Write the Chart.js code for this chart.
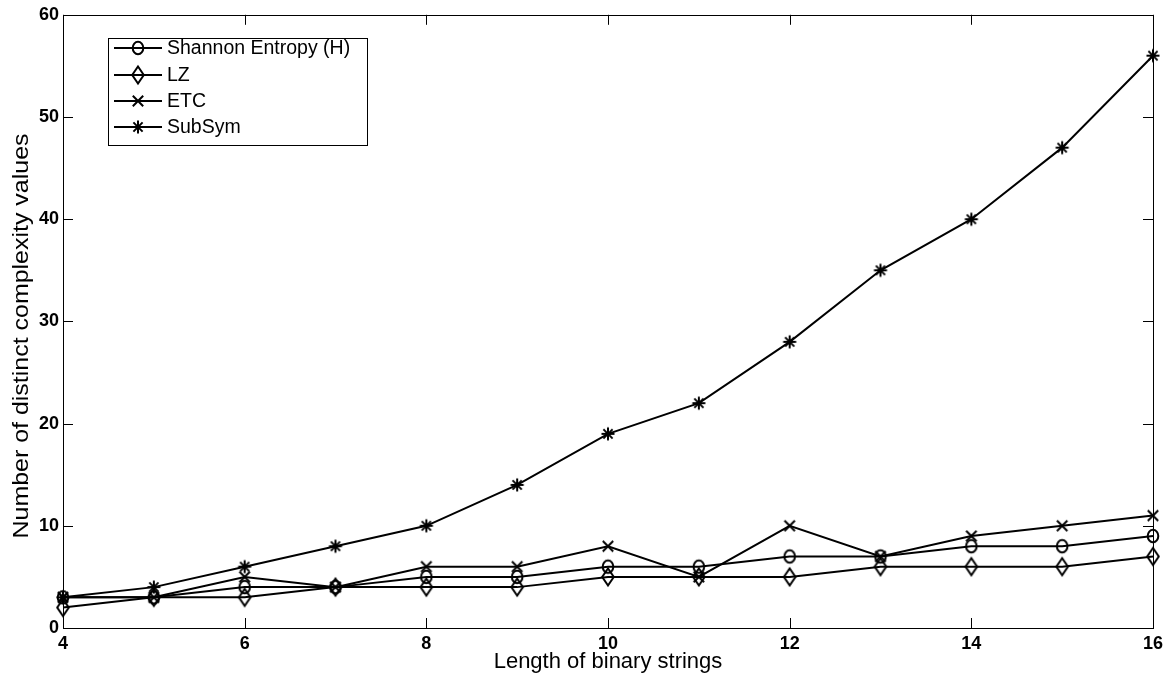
<!DOCTYPE html>
<html><head><meta charset="utf-8">
<script src="https://cdn.jsdelivr.net/npm/chart.js@4"></script>
<style>html,body{margin:0;padding:0;background:#fff}#wrap{width:1175px;height:679px}</style>
</head><body><div id="wrap"><canvas id="c" width="1175" height="679"></canvas></div>
<script>
const lengths = [4,5,6,7,8,9,10,11,12,13,14,15,16];
const shannon = [3,3,4,4,5,5,6,6,7,7,8,8,9];
const lz      = [2,3,3,4,4,4,5,5,5,6,6,6,7];
const etc     = [3,3,5,4,6,6,8,5,10,7,9,10,11];
const subsym  = [3,4,6,8,10,14,19,22,28,35,40,47,56];
const seriesNames = ['Shannon Entropy (H)','LZ','ETC','SubSym'];
const xTicks = [4,6,8,10,12,14,16];
const yTicks = [0,10,20,30,40,50,60];
const xTitle = 'Length of binary strings';
const yTitle = 'Number of distinct complexity values';
const FONT = '"Liberation Sans", Arial, Helvetica, sans-serif';

function marker(kind){
  const w=22,h=24,c=document.createElement('canvas');
  c.width=w;c.height=h;
  const g=c.getContext('2d');g.strokeStyle='#000';g.lineWidth=2;g.lineCap='butt';
  const cx=w/2,cy=h/2;
  g.beginPath();
  if(kind==='circle'){g.ellipse(cx,cy,5.3,6.2,0,0,Math.PI*2);}
  else if(kind==='diamond'){g.moveTo(cx,cy-8.5);g.lineTo(cx+5.8,cy);g.lineTo(cx,cy+8.5);g.lineTo(cx-5.8,cy);g.closePath();}
  else if(kind==='x'){const r=5.2;g.moveTo(cx-r,cy-r);g.lineTo(cx+r,cy+r);g.moveTo(cx+r,cy-r);g.lineTo(cx-r,cy+r);}
  else if(kind==='star'){const r=6.5,d=4.6;g.moveTo(cx,cy-r);g.lineTo(cx,cy+r);g.moveTo(cx-r,cy);g.lineTo(cx+r,cy);
    g.moveTo(cx-d,cy-d);g.lineTo(cx+d,cy+d);g.moveTo(cx+d,cy-d);g.lineTo(cx-d,cy+d);}
  g.stroke();
  return c;
}
const markers=[marker('circle'),marker('diamond'),marker('x'),marker('star')];
const allData = [shannon, lz, etc, subsym];
const datasets = allData.map((d,i)=>({
  label: seriesNames[i],
  data: lengths.map((x,j)=>({x:x,y:d[j]})),
  borderColor:'#000', borderWidth:2,
  pointStyle: markers[i],
  pointRadius: 8,
  tension:0, fill:false, clip:false
}));

const frame = {
  id:'frame',
  afterDraw(chart){
    const ctx = chart.ctx, a = chart.chartArea;
    const xs = chart.scales.x, ys = chart.scales.y;
    ctx.save();
    ctx.strokeStyle='#000'; ctx.lineWidth=1;
    ctx.strokeRect(Math.round(a.left)+0.5, Math.round(a.top)+0.5, Math.round(a.right-a.left), Math.round(a.bottom-a.top));
    const L=10;
    ctx.beginPath();
    xTicks.forEach(v=>{
      const p = Math.round(xs.getPixelForValue(v))+0.5;
      ctx.moveTo(p,a.bottom); ctx.lineTo(p,a.bottom-L);
      ctx.moveTo(p,a.top); ctx.lineTo(p,a.top+L);
    });
    yTicks.forEach(v=>{
      const p = Math.round(ys.getPixelForValue(v))+0.5;
      ctx.moveTo(a.left,p); ctx.lineTo(a.left+L,p);
      ctx.moveTo(a.right,p); ctx.lineTo(a.right-L,p);
    });
    ctx.stroke();
    // y title (slightly stretched along its length like the reference)
    ctx.save();
    ctx.translate(22, 336);
    ctx.rotate(-Math.PI/2);
    ctx.font='22px '+FONT;
    const tw = ctx.measureText(yTitle).width;
    const target = 405;
    ctx.scale(target/tw, 1);
    ctx.textAlign='center'; ctx.textBaseline='middle'; ctx.fillStyle='#000';
    ctx.fillText(yTitle, 0, 0);
    ctx.restore();
    // legend
    const bx=108.5, by=38.5, bw=259, bh=107;
    ctx.fillStyle='#fff'; ctx.fillRect(bx,by,bw,bh);
    ctx.strokeRect(bx,by,bw,bh);
    ctx.font='19.5px '+FONT;
    ctx.textBaseline='middle'; ctx.fillStyle='#000';
    const rows=[48,75,101,127];
    seriesNames.forEach((n,i)=>{
      const y=rows[i];
      ctx.lineWidth=2; ctx.strokeStyle='#000';
      ctx.beginPath(); ctx.moveTo(114,y); ctx.lineTo(162,y); ctx.stroke();
      const m=markers[i];
      ctx.drawImage(m,138-m.width/2,y-m.height/2);
      ctx.fillText(n,167,y+1);
    });
    ctx.restore();
  }
};

new Chart(document.getElementById('c'),{
  type:'line',
  data:{datasets},
  options:{
    responsive:false, animation:false,
    layout:{padding:{top:14,right:22,left:0,bottom:4}},
    plugins:{legend:{display:false},tooltip:{enabled:false}},
    scales:{
      x:{type:'linear',min:4,max:16,
        afterBuildTicks(s){s.ticks=xTicks.map(v=>({value:v}));},
        grid:{display:false,drawTicks:false},border:{display:false},
        ticks:{color:'#000',padding:5,font:{family:FONT,size:18,weight:'bold'},maxRotation:0,autoSkip:false},
        title:{display:true,text:xTitle,color:'#000',padding:{top:0,bottom:0},font:{family:FONT,size:22}},
        afterFit(s){s.height=47;}
      },
      y:{type:'linear',min:0,max:60,
        afterBuildTicks(s){s.ticks=yTicks.map(v=>({value:v}));},
        grid:{display:false,drawTicks:false},border:{display:false},
        ticks:{color:'#000',padding:4,font:{family:FONT,size:18,weight:'bold'},autoSkip:false},
        title:{display:false},
        afterFit(s){s.width=63;}
      }
    }
  },
  plugins:[frame]
});
</script></body></html>
